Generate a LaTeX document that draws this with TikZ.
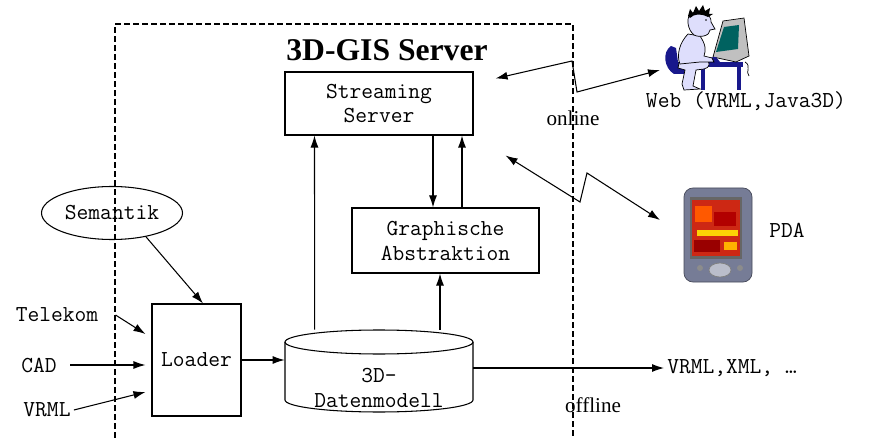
\documentclass[tikz,border=0pt]{standalone}
\usepackage{fontspec}
\setmainfont{Liberation Serif}
\usetikzlibrary{arrows.meta,shapes.geometric}

\definecolor{skin}{RGB}{222,222,252}
\definecolor{navy}{RGB}{24,24,140}
\definecolor{crt}{RGB}{192,192,192}
\definecolor{crtscreen}{RGB}{0,98,96}
\definecolor{pdagray}{RGB}{118,124,150}
\definecolor{pdared}{RGB}{205,40,20}

\newcommand{\ttlabel}{\fontsize{13}{14.2}\selectfont\ttfamily}
\newcommand{\rmlabel}{\fontsize{12}{14}\selectfont\rmfamily}

\tikzset{
  >={Latex[length=2.4mm,width=1.6mm]},
  box/.style={draw, rectangle, line width=0.6pt, inner sep=0pt, align=center, font=\ttlabel},
  plain/.style={inner sep=0.6mm, font=\ttlabel, align=center},
  link/.style={line width=0.6pt},
  frame/.style={line width=1.1pt, dash pattern=on 1.2mm off 0.6mm},
}

\begin{document}
\begin{tikzpicture}[x=0.2mm,y=-0.2mm]
\useasboundingbox (0,0) rectangle (871,438);

% server frame, open at the bottom
\draw[frame] (115,438) -- (115,24) -- (573,24) -- (573,438);
\node (title) at (387,50) {\fontsize{18}{20}\selectfont\bfseries 3D-GIS Server};

\node[box, minimum width=37.6mm, minimum height=12.6mm] (stream) at (379,103.5) {Streaming\\Server};
\node[box, minimum width=37.4mm, minimum height=13mm] (graph) at (445.5,240.5) {Graphische\\Abstraktion};
\node[box, minimum width=17.8mm, minimum height=22.4mm] (loader) at (196.5,360) {Loader};
\node[box, ellipse, minimum width=28.2mm, minimum height=10.6mm] (sem) at (112,213) {Semantik};

% data model cylinder
\draw[link, fill=white] (285,342) -- (285,400) arc[start angle=180, end angle=0, x radius=94, y radius=12] -- (473,342);
\draw[link] (379,342) ellipse [x radius=94, y radius=12];
\node[inner sep=0pt, minimum width=37.6mm, minimum height=16.6mm] (db) at (379,371.5) {};
\node[plain] (dbtext) at (379,388) {3D-\\Datenmodell};

% inputs
\node[plain] (tel) at (57,315) {Telekom};
\node[plain] (cad) at (39,365) {CAD};
\node[plain] (vrml) at (47,410) {VRML};

\draw[link,->] ([xshift=2.8mm]tel.east) -- ([xshift=-1.2mm,yshift=5.2mm]loader.west);
\draw[link,->] ([xshift=2mm]cad.east) -- ([xshift=-1.2mm]cad.east -| loader.west);
\draw[link,->] (vrml.east) -- ([xshift=-1.2mm,yshift=-6.4mm]loader.west);
\draw[link,->] (sem.-35) -- ([xshift=1.3mm]loader.north);

\draw[link,->] (loader.east) -- (loader.east -| db.west);
\draw[link,->] ([xshift=6mm]db.north west) -- ([xshift=6mm]stream.south west);
\draw[link,->] ([xshift=-1.1mm]graph.south |- db.north) -- ([xshift=-1.1mm]graph.south);
\draw[link,->] ([xshift=-2.5mm]graph.north |- stream.south) -- ([xshift=-2.5mm]graph.north);
\draw[link,->] ([xshift=3.3mm]graph.north) -- ([xshift=3.3mm]graph.north |- stream.south);

% offline export
\node[plain, anchor=west] (out) at (664,368) {VRML,XML, \dots};
\draw[link,->] (db.east |- out.west) -- (out.west);
\node[font=\rmlabel] (offline) at (593,405) {offline};

% online clients
\node[font=\rmlabel] (online) at (573,118) {online};
\node[plain] (web) at (746,101) {Web (VRML,Java3D)};
\node[plain] (pda) at (787,230) {PDA};
\coordinate (user) at (660,70);
\coordinate (handheld) at (660,220);

\draw[link,<->] ([xshift=4.4mm,yshift=-1.4mm]stream.north east) -- (572,61) -- (577,92) -- (user);
\draw[link,<->] ([xshift=6.4mm,yshift=-4mm]stream.south east) -- (580,202) -- (587,173) -- (handheld);

% user at the desk
\fill[navy] (699,62) rectangle (743,67);
\fill[navy] (701,67) rectangle (705,90);
\fill[navy] (737,67) rectangle (741,90);
\filldraw[fill=crt, line width=0.4pt] (713,57) -- (723,21) -- (744,18) -- (749,56) -- (736,62) -- cycle;
\fill[crtscreen] (716,52) -- (724,27) -- (739,25) -- (738,49) -- cycle;
\fill[navy] (703,58) -- (716,57) -- (720,62) -- (706,62) -- cycle;
\draw[line width=0.4pt] (745,62) .. controls (752,66) and (745,72) .. (749,76);
\fill[navy] (671,46) .. controls (662,52) and (664,68) .. (674,74) -- (688,74) -- (686,64) -- (678,62) -- (676,48) -- cycle;
\filldraw[fill=skin, line width=0.4pt] (680,58) -- (706,60) .. controls (711,62) and (710,68) .. (704,69) -- (696,70) -- (693,86) -- (700,89) -- (684,90) -- (682,84) -- (685,70) -- (678,68) -- cycle;
\filldraw[fill=skin, line width=0.4pt] (688,34) -- (700,36) .. controls (706,45) and (706,50) .. (704,56) -- (712,58) -- (714,62) -- (700,62) -- (680,64) .. controls (676,55) and (680,42) .. (688,34) -- cycle;
\filldraw[fill=skin, line width=0.4pt] (690,14) .. controls (700,9) and (712,14) .. (711,22) -- (715,29) -- (710,30) .. controls (710,36) and (700,38) .. (694,35) .. controls (688,30) and (686,20) .. (690,14) -- cycle;
\fill (688,16) -- (690,9) -- (693,13) -- (696,6) -- (699,11) -- (703,5) -- (705,11) -- (710,8) -- (709,14) -- (713,14) -- (708,17) .. controls (700,13) and (694,14) .. (690,18) -- cycle;
\fill (706,20) circle (0.9);

% handheld
\filldraw[fill=pdagray, draw=pdagray!60!black, rounded corners=1.8mm] (684,188) rectangle (752,282);
\fill[black!60] (690,197) rectangle (742,259);
\fill[pdared] (692,200) rectangle (740,256);
\fill[orange!70!red] (695,206) rectangle (712,222);
\fill[red!70!black] (714,212) rectangle (736,226);
\fill[yellow!70!orange] (697,230) rectangle (738,236);
\fill[red!60!black] (694,240) rectangle (720,252);
\fill[orange!60!yellow] (724,242) rectangle (737,250);
\filldraw[fill=pdagray!50!white, draw=black!50] (720,270) ellipse [x radius=11, y radius=7];
\fill[black!45] (700,268) circle (3);
\fill[black!45] (740,268) circle (3);
\end{tikzpicture}
\end{document}
